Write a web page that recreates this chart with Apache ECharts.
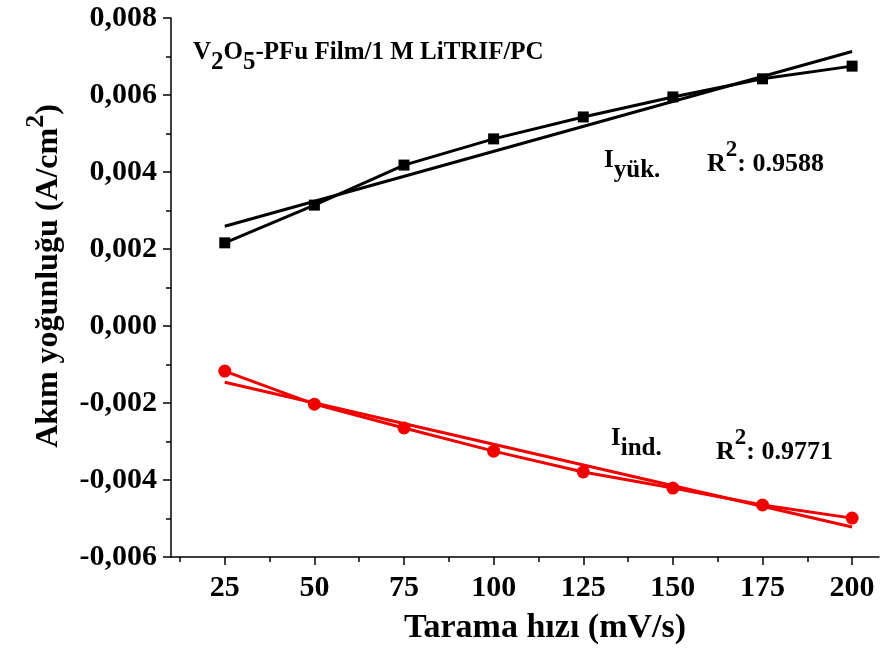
<!DOCTYPE html>
<html><head><meta charset="utf-8">
<script src="https://cdn.jsdelivr.net/npm/echarts@6/dist/echarts.min.js"></script>
<style>html,body{margin:0;padding:0;background:#fff}#c{width:882px;height:650px}</style>
</head><body><div id="c"></div>
<script>
// Scan rates (mV/s)
const scanRates = [25, 50, 75, 100, 125, 150, 175, 200];
// Anodic (charge) current density, A/cm2
const iYuk = [0.00216, 0.00314, 0.00418, 0.00486, 0.00543, 0.00595, 0.00642, 0.00675];
// Cathodic current density, A/cm2
const iInd = [-0.00117, -0.00203, -0.00265, -0.00325, -0.00379, -0.00421, -0.00465, -0.00499];
// Linear fit end points
const fitX = [25, 200];
const fitYuk = [0.00259, 0.00713];
const fitInd = [-0.00146, -0.00522];
// Tick labels
const xMajorTicks = [25, 50, 75, 100, 125, 150, 175, 200];
const xMinorTicks = [12.5, 37.5, 62.5, 87.5, 112.5, 137.5, 162.5, 187.5];

const FONT = '"Liberation Serif", "Times New Roman", serif';
const chart = echarts.init(document.getElementById('c'), null, {renderer: 'canvas'});
const pairs = (xs, ys) => xs.map((x, i) => [x, ys[i]]);

const xBase = {
  type: 'value', min: 10, max: 207.5, position: 'bottom',
  splitLine: {show: false},
  axisLine: {show: true, onZero: false, lineStyle: {color: '#000', width: 1.5}}
};

function subRich(fs, shift) {
  return {
    n: {fontFamily: FONT, fontWeight: 'bold', fontSize: fs, fill: '#000', lineHeight: fs, verticalAlign: 'top'},
    sub: {fontFamily: FONT, fontWeight: 'bold', fontSize: fs, fill: '#000', lineHeight: fs + shift, verticalAlign: 'bottom'}
  };
}
function supRich(fs, sfs, raise) {
  return {
    n: {fontFamily: FONT, fontWeight: 'bold', fontSize: fs, fill: '#000', lineHeight: fs + raise, verticalAlign: 'bottom'},
    sup: {fontFamily: FONT, fontWeight: 'bold', fontSize: sfs, fill: '#000', lineHeight: sfs, verticalAlign: 'top'}
  };
}

chart.setOption({
  animation: false,
  grid: {left: 171, right: 3, top: 18, bottom: 93, containLabel: false, outerBoundsMode: 'none'},
  xAxis: [
    Object.assign({}, xBase, {
      axisTick: {show: true, length: 8, inside: false, customValues: xMajorTicks, lineStyle: {color: '#000', width: 1.5}},
      axisLabel: {show: true, customValues: xMajorTicks, margin: 16, fontFamily: FONT, fontWeight: 'bold', fontSize: 30, color: '#000'}
    }),
    Object.assign({}, xBase, {
      axisLine: {show: false, onZero: false},
      axisTick: {show: true, length: 5, customValues: xMinorTicks, lineStyle: {color: '#000', width: 1.5}},
      axisLabel: {show: false}
    })
  ],
  yAxis: {
    type: 'value', min: -0.006, max: 0.008, interval: 0.002,
    splitLine: {show: false},
    axisLine: {show: true, onZero: false, lineStyle: {color: '#000', width: 1.5}},
    axisTick: {show: true, length: 8, lineStyle: {color: '#000', width: 1.5}},
    minorTick: {show: true, splitNumber: 2, length: 5, lineStyle: {color: '#000', width: 1.5}},
    axisLabel: {
      margin: 14, fontFamily: FONT, fontWeight: 'bold', fontSize: 30, color: '#000',
      formatter: v => (Math.abs(v) < 1e-9 ? 0 : v).toFixed(3).replace('.', ',')
    }
  },
  series: [
    {type: 'line', name: 'fitYuk', data: pairs(fitX, fitYuk), showSymbol: false, symbol: 'none',
     lineStyle: {color: '#000', width: 3}, z: 2},
    {type: 'line', name: 'yuk', data: pairs(scanRates, iYuk), symbol: 'rect', symbolSize: 11,
     itemStyle: {color: '#000'}, lineStyle: {color: '#000', width: 3}, z: 3},
    {type: 'line', name: 'fitInd', data: pairs(fitX, fitInd), showSymbol: false, symbol: 'none',
     lineStyle: {color: '#f00000', width: 3}, z: 2},
    {type: 'line', name: 'ind', data: pairs(scanRates, iInd), symbol: 'circle', symbolSize: 13,
     itemStyle: {color: '#f00000'}, lineStyle: {color: '#f00000', width: 3}, z: 3}
  ],
  graphic: [
    {type: 'text', x: 44, y: 276, rotation: Math.PI / 2, style: {
      text: '{n|Akım yoğunluğu (A/cm}{sup|2}{n|)}', align: 'center', verticalAlign: 'middle',
      rich: supRich(32, 26, 10)}},
    {type: 'text', x: 545, y: 628, style: {
      text: 'Tarama hızı (mV/s)', align: 'center', verticalAlign: 'middle',
      fontFamily: FONT, fontWeight: 'bold', fontSize: 34, fill: '#000'}},
    {type: 'text', left: 193, top: 40, style: {
      text: '{n|V}{sub|2}{n|O}{sub|5}{n|-PFu Film/1 M LiTRIF/PC}', rich: subRich(25, 10)}},
    {type: 'text', left: 604, top: 148, style: {
      text: '{n|I}{sub|yük.}', rich: subRich(25, 10)}},
    {type: 'text', left: 707, top: 139, style: {
      text: '{n|R}{sup|2}{n|: 0.9588}', rich: supRich(26, 23, 12)}},
    {type: 'text', left: 611, top: 426, style: {
      text: '{n|I}{sub|ind.}', rich: subRich(25, 10)}},
    {type: 'text', left: 716, top: 427, style: {
      text: '{n|R}{sup|2}{n|: 0.9771}', rich: supRich(26, 23, 12)}}
  ]
});
</script></body></html>
